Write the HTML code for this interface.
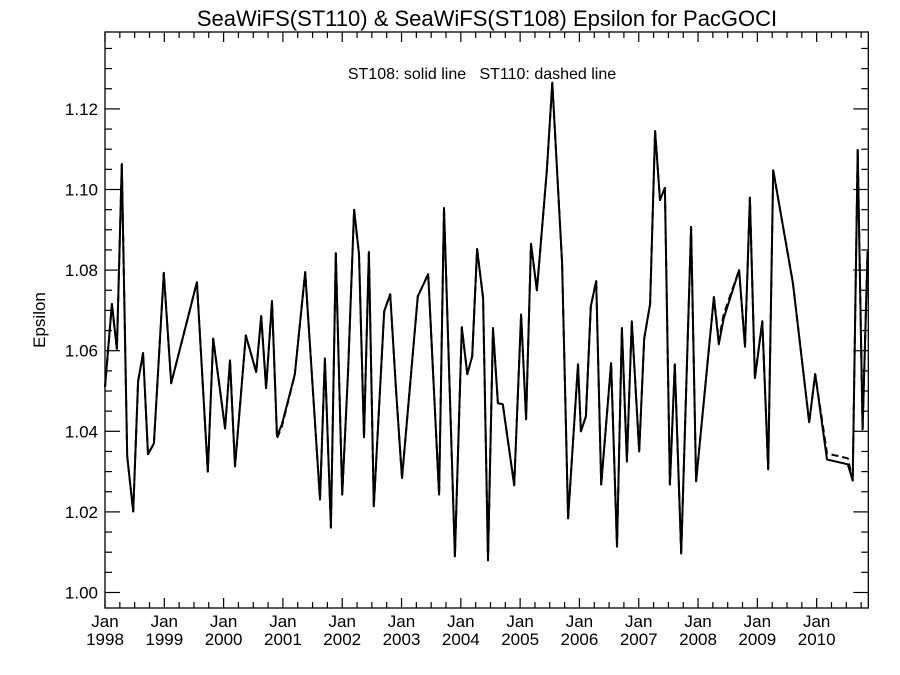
<!DOCTYPE html>
<html><head><meta charset="utf-8"><style>
html,body{margin:0;padding:0;background:#fff;}
svg{display:block;font-family:"Liberation Sans",Arial,sans-serif;}
</style></head><body>
<svg id="chart" width="900" height="675" viewBox="0 0 900 675" xmlns="http://www.w3.org/2000/svg">
<rect x="0" y="0" width="900" height="675" fill="#fff"/>
<text x="487" y="26" font-size="22" text-anchor="middle" fill="#000">SeaWiFS(ST110) &amp; SeaWiFS(ST108)  Epsilon for PacGOCI</text>
<text x="482" y="79" font-size="16" text-anchor="middle" fill="#000" xml:space="preserve">ST108: solid line   ST110: dashed line</text>
<text transform="translate(45,320) rotate(-90)" font-size="17" text-anchor="middle" fill="#000">Epsilon</text>
<g id="axes"></g>
<g id="series"></g>
</svg>
<script>
// months since Jan 1998
const months = [0,1.4,2.4,3.4,4.5,5.7,6.7,7.7,8.7,9.9,11.9,13.4,18.6,20.8,21.9,24.3,25.3,26.3,28.5,30.6,31.6,32.6,33.8,34.8,35.8,38.4,40.5,43.5,44.5,45.7,46.7,48,49.2,50.4,51.4,52.4,53.4,54.4,56.5,57.7,58.9,60.1,63.3,65.4,67.6,68.6,70.8,72.2,73.3,74.3,75.3,76.5,77.5,78.5,79.5,80.5,82.8,84.2,85.2,86.2,87.4,89.4,90.5,92.5,93.7,95.7,96.3,97.3,98.3,99.4,100.4,102.4,103.6,104.6,105.6,106.6,108.1,109.1,110.3,111.3,112.3,113.3,114.3,115.3,116.6,118.6,119.6,123.2,124.2,125.2,128.3,129.5,130.5,131.5,133,134.2,135.2,139.2,142.5,143.7,146.1,150.3,151.3,152.3,153.3,154.3];
const st108 = [1.051,1.0716,1.0604,1.1063,1.0338,1.0201,1.0524,1.0594,1.0343,1.037,1.0793,1.0519,1.077,1.030,1.063,1.0407,1.0576,1.0313,1.0638,1.0547,1.0686,1.0507,1.0723,1.0388,1.0417,1.0541,1.0795,1.0231,1.0581,1.0161,1.0842,1.0243,1.055,1.095,1.084,1.0385,1.0845,1.0214,1.0698,1.074,1.050,1.0284,1.0735,1.079,1.0243,1.0954,1.009,1.0658,1.0542,1.0586,1.0852,1.073,1.008,1.0656,1.047,1.0467,1.0266,1.069,1.043,1.0865,1.075,1.1046,1.1265,1.0817,1.0184,1.0566,1.040,1.0437,1.071,1.0773,1.0268,1.0569,1.0114,1.0656,1.0325,1.0673,1.035,1.063,1.0716,1.1145,1.0974,1.1004,1.0268,1.0566,1.0097,1.0907,1.0276,1.0733,1.0616,1.068,1.080,1.061,1.098,1.0532,1.0673,1.0306,1.1048,1.0768,1.0422,1.0542,1.033,1.0318,1.0278,1.1098,1.0405,1.0847];
const st110 = [1.051,1.0716,1.0604,1.1063,1.0338,1.0201,1.0524,1.0594,1.0343,1.037,1.0793,1.0519,1.077,1.030,1.063,1.0407,1.0576,1.0313,1.0638,1.0547,1.0686,1.0507,1.0723,1.0383,1.0412,1.0541,1.0795,1.0231,1.0581,1.0161,1.0842,1.0243,1.055,1.095,1.084,1.0385,1.0845,1.0214,1.0698,1.074,1.050,1.0284,1.0735,1.079,1.0243,1.0954,1.009,1.0658,1.0542,1.0586,1.0852,1.073,1.008,1.0656,1.047,1.0467,1.0266,1.069,1.043,1.0865,1.075,1.1046,1.1265,1.0817,1.0184,1.0566,1.040,1.0437,1.071,1.0773,1.0268,1.0569,1.0114,1.0656,1.0325,1.0673,1.035,1.063,1.0716,1.1145,1.0974,1.1004,1.0268,1.0566,1.0097,1.0907,1.0276,1.0733,1.0625,1.069,1.080,1.061,1.098,1.0532,1.0673,1.0306,1.1048,1.0768,1.0422,1.0542,1.0345,1.0333,1.0278,1.1098,1.0405,1.0847];
const yTicks = [1.00,1.02,1.04,1.06,1.08,1.10,1.12];
const yTickLabels = ["1.00","1.02","1.04","1.06","1.08","1.10","1.12"];
const xYears = ["1998","1999","2000","2001","2002","2003","2004","2005","2006","2007","2008","2009","2010"];

const L=105, R=868.3, T=32, B=608;
const M0=0, M1=154.45, V0=1.0, PPV=4030, Y0=592.5;
const sx = m => L + (m-M0)/(M1-M0)*(R-L);
const sy = v => Y0 - (v-V0)*PPV;
const NS="http://www.w3.org/2000/svg";
const axes=document.getElementById('axes'), ser=document.getElementById('series');
function mk(tag, attrs, parent){const e=document.createElementNS(NS,tag);for(const k in attrs)e.setAttribute(k,attrs[k]);parent.appendChild(e);return e;}

const box=mk('rect',{x:L,y:T,width:R-L,height:B-T,fill:'none',stroke:'#000','stroke-width':1.3},axes);



// y minor+major ticks
for(let i=0;i<=28;i++){
  const v=0.995+i*0.005; const y=sy(v);
  if(y<T||y>B) continue;
  const major=Math.abs((v-1)/0.02-Math.round((v-1)/0.02))<1e-6;
  const len=major?15:7;
  const t1=mk('line',{x1:L,y1:y,x2:L+len,y2:y,stroke:'#000','stroke-width':1.2},axes);
  
  
  const t2=mk('line',{x1:R,y1:y,x2:R-len,y2:y,stroke:'#000','stroke-width':1.2},axes);
  
  
}
yTicks.forEach((v,i)=>{
  const t=mk('text',{x:L-7,y:sy(v)+6,'font-size':17,'text-anchor':'end',fill:'#000'},axes);
  t.textContent=yTickLabels[i];
  
  
});
// x ticks every 3 months
for(let m=0;m<=M1;m+=3){
  const x=sx(m); const major=(m%12===0); const len=major?10:6;
  const a=mk('line',{x1:x,y1:B,x2:x,y2:B-len,stroke:'#000','stroke-width':1.2},axes);
  
  
  const b=mk('line',{x1:x,y1:T,x2:x,y2:T+len,stroke:'#000','stroke-width':1.2},axes);
  
  
}
xYears.forEach((yr,i)=>{
  const x=sx(i*12);
  const t=mk('text',{x:x,y:627,'font-size':17,'text-anchor':'middle',fill:'#000'},axes);
  t.textContent='Jan';
  
  
  const t2=mk('text',{x:x,y:645,'font-size':17,'text-anchor':'middle',fill:'#000'},axes);
  t2.textContent=yr;
  
  
});
function pts(vals){return months.map((m,i)=>sx(m).toFixed(1)+','+sy(vals[i]).toFixed(1)).join(' ');}
const p110=mk('polyline',{points:pts(st110),fill:'none',stroke:'#000','stroke-width':2,'stroke-dasharray':'7,4','stroke-linejoin':'round'},ser);


const p108=mk('polyline',{points:pts(st108),fill:'none',stroke:'#000','stroke-width':2,'stroke-linejoin':'round'},ser);


</script>
</body></html>
